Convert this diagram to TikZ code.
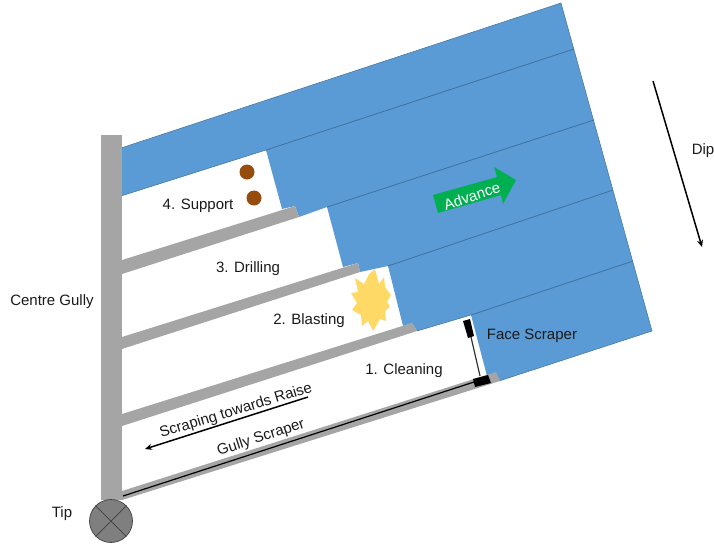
\documentclass[tikz,border=0pt]{standalone}
\usepackage{fontspec}
\setmainfont{Liberation Sans}
\definecolor{mBlue}{HTML}{5B9BD5}
\definecolor{mBlueLine}{HTML}{41719C}
\definecolor{mGrey}{HTML}{A5A5A5}
\definecolor{mTip}{HTML}{7F7F7F}
\definecolor{mGreen}{HTML}{00B050}
\definecolor{mBrown}{HTML}{964B0F}
\definecolor{mBlast}{HTML}{FFD966}
\definecolor{mText}{HTML}{1A1A1A}
\usetikzlibrary{arrows.meta}
\tikzset{
 lbl/.style={font=\fontsize{15}{18}\selectfont, text=mText, inner sep=0pt},
 strut/.style={fill=mGrey, draw=none},
 seam/.style={draw=mBlueLine, line width=0.8pt},
 longarrow/.style={-{Stealth[length=7pt,width=6pt]}, black, line width=1.5pt}
}
\newcommand{\panelstrut}[4]{%
 \fill[strut] (122,#1) -- (#2) -- (#3) -- (122,#4) -- cycle;}
\begin{document}
\begin{tikzpicture}[x=1pt,y=-1pt]
\useasboundingbox (0,0) rectangle (714,547);
\fill[mBlue] (121,148) -- (561,3) -- (652,331) -- (499,381) -- (487,376) -- (471,315) -- (417,331) -- (412,323) -- (403,326) -- (388,266) -- (360,272) -- (358,263) -- (343,267) -- (327,207) -- (299,217) -- (295,206) -- (282,209) -- (266,150) -- (121,196) -- cycle;
\draw[mBlueLine, line width=0.5pt] (121,148) -- (561,3) -- (652,331) -- (499,381);
\draw[seam] (266,150) -- (574,49);
\draw[seam] (327,207) -- (594,120);
\draw[seam] (388,266) -- (613,190);
\draw[seam] (471,315) -- (633,261);
\draw[mBlueLine, line width=0.5pt] (121,196) -- (266,150) (471,315) -- (417,331);
\fill[strut] (101,135) rectangle (122,500);
\panelstrut{260}{295,206}{299,217}{274}
\panelstrut{337}{358,263}{360,272}{349}
\panelstrut{414}{412,323}{417,331}{426}
\panelstrut{491}{496,372}{500,381}{500}
\node[circle, draw=black!75, fill=mTip, line width=0.7pt, minimum size=43pt, inner sep=0pt] (tip) at (111,521) {};
\draw[black!75, line width=0.7pt] (tip.north west) -- (tip.south east) (tip.north east) -- (tip.south west);
\fill[mBrown] (247,172) circle (7.5);
\fill[mBrown] (254,198) circle (7.5);
\fill[mBlast] (375,269) -- (379,284) -- (384,277) -- (385,287) -- (391,295) -- (387,302) -- (390,307) -- (385,311) -- (386,321) -- (380,319) -- (373,331) -- (368,321) -- (362,326) -- (361,315) -- (352,310) -- (357,303) -- (351,293) -- (358,292) -- (355,278) -- (364,284) -- (369,274) -- cycle;
\fill[black] (473,379) -- (488,375) -- (491,383) -- (475,387) -- cycle;
\fill[black] (463,321) -- (470,319) -- (474,336) -- (468,338) -- cycle;
\coordinate (gullyleft) at (123,496);
\coordinate (gullyright) at (474,382);
\coordinate (faceup) at (471,337);
\coordinate (facedown) at (480,376);
\coordinate (scrapestart) at (308,397);
\coordinate (scrapeend) at (145,449);
\coordinate (dipstart) at (653,81);
\coordinate (dipend) at (702,247);
\draw[black, line width=1.2pt] (gullyleft) -- (gullyright);
\draw[black!80, line width=1.2pt] (faceup) -- (facedown);
\draw[longarrow] (scrapestart) -- (scrapeend);
\draw[longarrow] (dipstart) -- (dipend);
\fill[mGreen] (433,195) -- (497,177) -- (494,167) -- (516,180) -- (503,204) -- (501,195) -- (438,213) -- cycle;
\node[lbl, text=white, rotate=18] (advance) at (472,196) {Advance};
\node[lbl] (centre) at (52,301.5) {Centre Gully};
\node[lbl] (tiplabel) at (62,513.5) {Tip};
\node[lbl] (dip) at (703,150.5) {Dip};
\node[lbl] (support) at (198,205.5) {4. Support};
\node[lbl] (drilling) at (248,268.5) {3. Drilling};
\node[lbl] (blasting) at (309,320.5) {2. Blasting};
\node[lbl] (cleaning) at (404,370.5) {1. Cleaning};
\node[lbl] (face) at (532,335.5) {Face Scraper};
\node[lbl, rotate=17] (scraping) at (236,411) {Scraping towards Raise};
\node[lbl, rotate=18] (gully) at (261,438) {Gully Scraper};
\end{tikzpicture}
\end{document}
